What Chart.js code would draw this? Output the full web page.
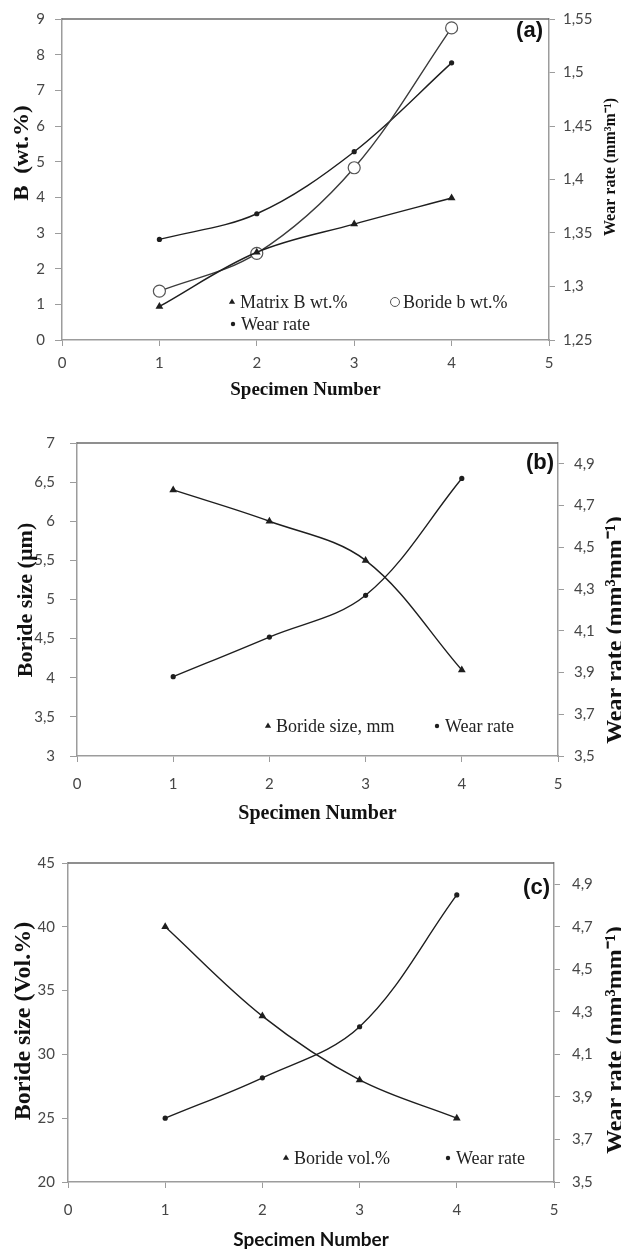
<!DOCTYPE html>
<html>
<head>
<meta charset="utf-8">
<script src="https://cdn.jsdelivr.net/npm/chart.js@4.4.1/dist/chart.umd.min.js"></script>
<style>
html, body { margin: 0; padding: 0; background: #fff; }
.panel { position: relative; width: 621px; height: 417px; }
canvas { display: block; }
</style>
</head>
<body>
<div class="panel"><canvas id="chartA" width="621" height="417"></canvas></div>
<div class="panel"><canvas id="chartB" width="621" height="417"></canvas></div>
<div class="panel"><canvas id="chartC" width="621" height="417"></canvas></div>
<script>
const SPECIMENS = [1, 2, 3, 4];

// (a) boron content and wear rate
const MATRIX_B_WT = [0.94, 2.46, 3.25, 3.98];
const BORIDE_B_WT = [1.37, 2.43, 4.83, 8.75];
const WEAR_RATE_A = [1.344, 1.368, 1.426, 1.509];

// (b) boride size and wear rate
const BORIDE_SIZE = [6.4, 6.0, 5.5, 4.1];
const WEAR_RATE_B = [3.88, 4.07, 4.27, 4.83];

// (c) boride volume fraction and wear rate
const BORIDE_VOL = [40, 33, 28, 25];
const WEAR_RATE_C = [3.80, 3.99, 4.23, 4.85];

// axis ticks
const X_TICKS = [0, 1, 2, 3, 4, 5];
const A_LEFT_TICKS = [0, 1, 2, 3, 4, 5, 6, 7, 8, 9];
const A_RIGHT_TICKS = [1.25, 1.3, 1.35, 1.4, 1.45, 1.5, 1.55];
const B_LEFT_TICKS = [3, 3.5, 4, 4.5, 5, 5.5, 6, 6.5, 7];
const C_LEFT_TICKS = [20, 25, 30, 35, 40, 45];
const WEAR_TICKS = [3.5, 3.7, 3.9, 4.1, 4.3, 4.5, 4.7, 4.9];
const WEAR_RANGE = [3.5, 5.0];

const W = 621, H = 417;
const INK = '#1e1e1e';
const AXIS_GREY = '#9c9c9c';
const TICK_FONT = { family: 'Lato, "Liberation Sans", sans-serif', size: 15 };
const SERIF = '"Liberation Serif", "Times New Roman", serif';
const SANS = 'Lato, "Liberation Sans", sans-serif';

function comma(v) {
    return String(v).replace('.', ',');
}

function pts(ys) {
    return SPECIMENS.map((x, i) => ({ x: x, y: ys[i] }));
}

function axis(position, ticks, min, max, fitSize, pad, tickLen) {
    return {
        type: 'linear',
        position: position,
        min: min,
        max: max,
        afterBuildTicks: function(scale) {
            scale.ticks = ticks.map(v => ({ value: v }));
        },
        afterFit: function(scale) {
            if (position === 'bottom') {
                scale.height = fitSize;
            } else {
                scale.width = fitSize;
            }
        },
        grid: { drawOnChartArea: false, drawTicks: true, tickLength: tickLen, tickColor: AXIS_GREY, tickWidth: 1 },
        border: { color: AXIS_GREY, width: 1.5 },
        ticks: { color: '#464646', font: TICK_FONT, padding: pad, autoSkip: false, maxRotation: 0, callback: v => comma(v) }
    };
}

const TRIANGLE = { pointStyle: 'triangle', pointRadius: 4.5, pointBackgroundColor: INK, pointBorderWidth: 0 };
const DOT = { pointStyle: 'circle', pointRadius: 2.6, pointBackgroundColor: INK, pointBorderWidth: 0 };
const RING = { pointStyle: 'circle', pointRadius: 6, pointBackgroundColor: '#fff', pointBorderColor: '#555', pointBorderWidth: 1.2, borderColor: '#3a3a3a' };

function series(label, ys, yAxisID, style) {
    return Object.assign({
        label: label,
        data: pts(ys),
        yAxisID: yAxisID,
        borderColor: INK,
        borderWidth: 1.4,
        tension: 0.35,
        fill: false
    }, style);
}

function drawMarker(ctx, ds, x, y, r) {
    ctx.save();
    ctx.beginPath();
    if (ds.pointStyle === 'triangle') {
        ctx.moveTo(x, y - r);
        ctx.lineTo(x + r * 0.866, y + r * 0.5);
        ctx.lineTo(x - r * 0.866, y + r * 0.5);
        ctx.closePath();
    } else {
        ctx.arc(x, y, r, 0, Math.PI * 2);
    }
    ctx.fillStyle = ds.pointBackgroundColor;
    ctx.fill();
    if (ds.pointBorderWidth) {
        ctx.lineWidth = 1;
        ctx.strokeStyle = ds.pointBorderColor;
        ctx.stroke();
    }
    ctx.restore();
}

function rotatedText(ctx, t) {
    ctx.save();
    ctx.translate(t.x, t.y);
    ctx.rotate(-Math.PI / 2);
    ctx.scale(t.stretch || 1, 1);
    ctx.font = 'bold ' + t.size + 'px ' + SERIF;
    ctx.fillStyle = '#111';
    ctx.textAlign = 'center';
    ctx.textBaseline = 'middle';
    ctx.fillText(t.text, 0, 0);
    ctx.restore();
}

// frame top edge, panel tag, axis titles and the in-plot legend
const decorPlugin = {
    id: 'decor',
    afterDraw(chart, args, opts) {
        const ctx = chart.ctx;
        const area = chart.chartArea;

        ctx.save();
        ctx.strokeStyle = '#6a6a6a';
        ctx.lineWidth = 1.5;
        ctx.beginPath();
        ctx.moveTo(area.left, area.top);
        ctx.lineTo(area.right, area.top);
        ctx.stroke();

        ctx.font = 'bold 22px "Liberation Sans", Arial, sans-serif';
        ctx.fillStyle = '#111';
        ctx.textAlign = 'right';
        ctx.textBaseline = 'middle';
        ctx.fillText(opts.tag.text, opts.tag.x, opts.tag.y);

        ctx.font = opts.xTitle.font;
        ctx.textAlign = 'center';
        ctx.fillText(opts.xTitle.text, (area.left + area.right) / 2, opts.xTitle.y);
        ctx.restore();

        rotatedText(ctx, opts.leftTitle);
        rotatedText(ctx, opts.rightTitle);

        ctx.save();
        ctx.font = '18px ' + SERIF;
        ctx.fillStyle = '#222';
        ctx.textAlign = 'left';
        ctx.textBaseline = 'middle';
        opts.legend.forEach(item => {
            const ds = chart.data.datasets[item.index];
            const r = ds.pointStyle === 'triangle' ? 3.6 : (ds.pointBorderWidth ? 4.5 : 2.2);
            drawMarker(ctx, ds, item.x, item.y, r);
            ctx.fillText(ds.label, item.x + 8, item.y + 1);
        });
        ctx.restore();
    }
};

function baseOptions(top, scales, decor) {
    return {
        responsive: false,
        animation: false,
        layout: { padding: { top: top, left: 0, right: 0, bottom: 0 } },
        scales: scales,
        plugins: {
            legend: { display: false },
            tooltip: { enabled: false },
            decor: decor
        }
    };
}

new Chart(document.getElementById('chartA'), {
    type: 'line',
    data: {
        datasets: [
            series('Matrix B wt.%', MATRIX_B_WT, 'y', TRIANGLE),
            series('Boride b wt.%', BORIDE_B_WT, 'y', RING),
            series('Wear rate', WEAR_RATE_A, 'y1', DOT)
        ]
    },
    options: baseOptions(13, {
        x: axis('bottom', X_TICKS, 0, 5, H - 340, 8, 6),
        y: axis('left', A_LEFT_TICKS, 0, 9, 62, 10, 7),
        y1: axis('right', A_RIGHT_TICKS, 1.25, 1.55, W - 549, 8, 6)
    }, {
        tag: { text: '(a)', x: 543, y: 31 },
        xTitle: { text: 'Specimen Number', y: 390, font: 'bold 19px ' + SERIF },
        leftTitle: { text: 'B  (wt.%)', x: 23, y: 153, size: 21, stretch: 1.1 },
        rightTitle: { text: 'Wear rate (mm³m⁻¹)', x: 611, y: 167, size: 16 },
        legend: [
            { index: 0, x: 232, y: 302 },
            { index: 1, x: 395, y: 302 },
            { index: 2, x: 233, y: 324 }
        ]
    }),
    plugins: [decorPlugin]
});

new Chart(document.getElementById('chartB'), {
    type: 'line',
    data: {
        datasets: [
            series('Boride size, mm', BORIDE_SIZE, 'y', TRIANGLE),
            series('Wear rate', WEAR_RATE_B, 'y1', DOT)
        ]
    },
    options: baseOptions(26, {
        x: axis('bottom', X_TICKS, 0, 5, H - 339, 13, 6),
        y: axis('left', B_LEFT_TICKS, 3, 7, 77, 15, 7),
        y1: axis('right', WEAR_TICKS, WEAR_RANGE[0], WEAR_RANGE[1], W - 558, 10, 6)
    }, {
        tag: { text: '(b)', x: 554, y: 46 },
        xTitle: { text: 'Specimen Number', y: 397, font: 'bold 20px ' + SERIF },
        leftTitle: { text: 'Boride size (µm)', x: 26, y: 183, size: 22 },
        rightTitle: { text: 'Wear rate (mm³mm⁻¹)', x: 616, y: 213, size: 24 },
        legend: [
            { index: 0, x: 268, y: 309 },
            { index: 1, x: 437, y: 309 }
        ]
    }),
    plugins: [decorPlugin]
});

new Chart(document.getElementById('chartC'), {
    type: 'line',
    data: {
        datasets: [
            series('Boride vol.%', BORIDE_VOL, 'y', TRIANGLE),
            series('Wear rate', WEAR_RATE_C, 'y1', DOT)
        ]
    },
    options: baseOptions(29, {
        x: axis('bottom', X_TICKS, 0, 5, H - 348, 13, 6),
        y: axis('left', C_LEFT_TICKS, 20, 45, 68, 7, 6),
        y1: axis('right', WEAR_TICKS, WEAR_RANGE[0], WEAR_RANGE[1], W - 554, 12, 6)
    }, {
        tag: { text: '(c)', x: 550, y: 54 },
        xTitle: { text: 'Specimen Number', y: 406, font: 'bold 19px ' + SANS },
        leftTitle: { text: 'Boride size (Vol.%)', x: 24, y: 187, size: 24 },
        rightTitle: { text: 'Wear rate (mm³mm⁻¹)', x: 616, y: 206, size: 24 },
        legend: [
            { index: 0, x: 286, y: 324 },
            { index: 1, x: 448, y: 324 }
        ]
    }),
    plugins: [decorPlugin]
});
</script>
</body>
</html>
